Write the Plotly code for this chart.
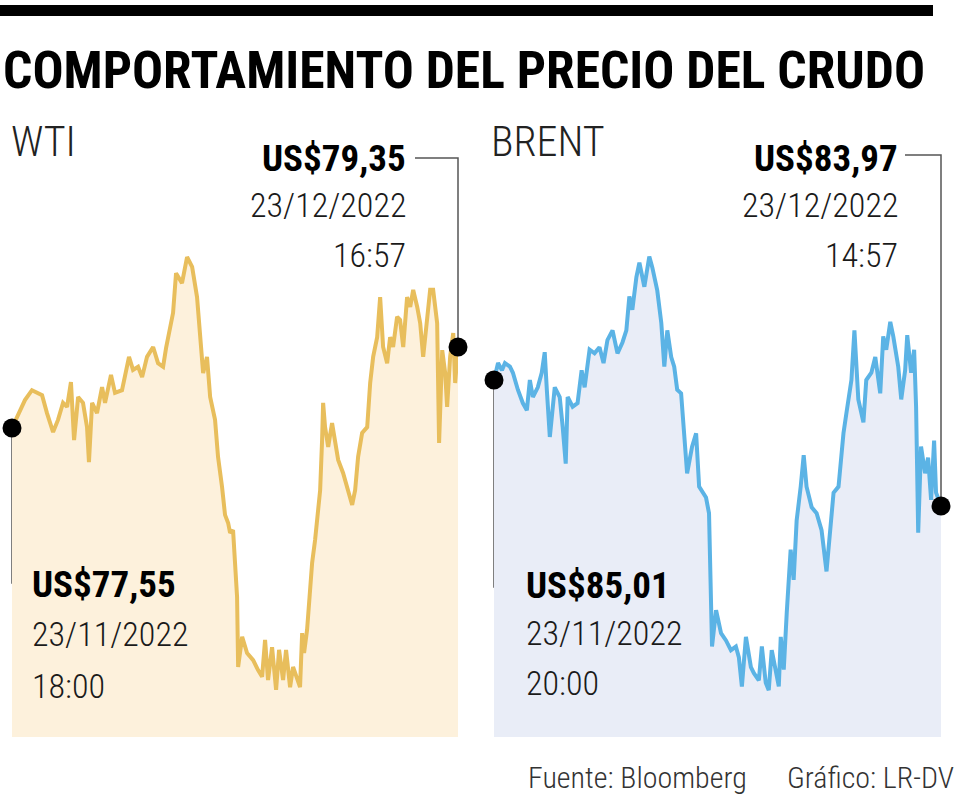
import plotly.graph_objects as go

# ---------------- data ----------------
# days elapsed since the first quote (23/11/2022), price in US$
wti_day = [0, 0.54, 0.87, 1.34, 1.68, 2.02, 2.35, 2.76, 3.09, 3.43,
           3.70, 3.96, 4.17, 4.44, 4.77, 5.04, 5.17, 5.38, 5.71, 6.05,
           6.25, 6.65, 6.92, 7.39, 7.86, 8.13, 8.47, 8.74, 9.07, 9.48,
           9.81, 10.15, 10.35, 10.62, 10.82, 11.02, 11.42, 11.76, 12.10, 12.43,
           12.63, 12.84, 13.10, 13.31, 13.64, 13.84, 14.11, 14.31, 14.52, 14.65,
           14.85, 15.12, 15.19, 15.46, 15.79, 16.20, 16.53, 16.80, 17.00, 17.20,
           17.47, 17.74, 17.94, 18.21, 18.41, 18.68, 18.88, 19.15, 19.35, 19.49,
           19.62, 19.82, 20.16, 20.36, 20.56, 20.70, 20.83, 20.90, 21.03, 21.24,
           21.50, 21.71, 21.91, 22.24, 22.58, 22.85, 23.05, 23.25, 23.52, 23.86,
           24.06, 24.26, 24.53, 24.73, 24.93, 25.20, 25.40, 25.60, 25.87, 26.07,
           26.28, 26.54, 26.75, 26.95, 27.22, 27.42, 27.62, 27.89, 28.09, 28.29,
           28.56, 28.69, 28.90, 29.10, 29.23, 29.43, 29.64, 29.77, 29.90, 29.96]
wti_price = [77.55, 77.91, 78.17, 78.39, 78.33, 78.28, 77.88, 77.46, 77.73, 78.11,
             78.02, 78.57, 77.28, 78.24, 78.11, 77.57, 76.79, 78.11, 77.88, 78.46,
             78.11, 78.73, 78.33, 78.39, 79.13, 78.84, 78.91, 78.68, 79.13, 79.35,
             78.99, 78.91, 79.33, 79.79, 80.11, 80.99, 80.77, 81.35, 81.13, 80.46,
             79.73, 78.77, 79.13, 78.24, 77.73, 76.91, 76.24, 75.62, 75.44, 75.22,
             75.28, 73.79, 72.24, 72.91, 72.55, 72.39, 72.17, 72.02, 72.84, 71.95,
             72.68, 71.73, 72.62, 71.95, 72.62, 71.79, 72.24, 71.95, 71.79, 72.99,
             72.55, 73.06, 74.55, 75.06, 75.66, 76.17, 77.28, 78.11, 77.57, 77.13,
             77.66, 77.28, 76.84, 76.55, 76.17, 75.84, 76.17, 76.91, 77.44, 77.57,
             78.55, 79.13, 79.57, 80.46, 79.35, 78.99, 79.57, 79.35, 80.02, 79.95,
             79.35, 80.46, 80.24, 80.62, 80.24, 79.88, 79.13, 79.95, 80.62, 80.62,
             79.88, 77.22, 79.28, 78.77, 78.02, 79.13, 79.66, 78.55, 79.06, 79.35]

brent_day = [0, 0.27, 0.53, 0.73, 1.06, 1.26, 1.59, 1.92, 2.19, 2.39,
             2.59, 2.92, 3.18, 3.38, 3.52, 3.72, 4.05, 4.38, 4.58, 4.78,
             4.91, 5.24, 5.57, 5.84, 6.04, 6.37, 6.70, 7.03, 7.30, 7.56,
             7.90, 8.23, 8.56, 8.82, 9.02, 9.22, 9.49, 9.69, 10.02, 10.35,
             10.55, 10.88, 11.15, 11.35, 11.55, 11.81, 12.01, 12.21, 12.47, 12.67,
             12.87, 13.20, 13.47, 13.67, 14.13, 14.33, 14.46, 14.53, 14.80, 15.13,
             15.46, 15.79, 16.12, 16.32, 16.52, 16.79, 17.12, 17.32, 17.65, 17.85,
             18.11, 18.31, 18.51, 18.78, 18.98, 19.11, 19.31, 19.51, 19.77, 19.97,
             20.17, 20.44, 20.64, 20.83, 21.17, 21.50, 21.83, 22.16, 22.43, 22.63,
             22.96, 23.29, 23.49, 23.82, 24.02, 24.28, 24.62, 24.81, 25.15, 25.41,
             25.74, 25.94, 26.14, 26.41, 26.61, 26.94, 27.14, 27.40, 27.54, 27.80,
             28.00, 28.13, 28.27, 28.46, 28.73, 28.93, 29.13, 29.33, 29.46, 29.79]
brent_price = [85.01, 85.15, 85.09, 85.15, 85.12, 85.07, 84.93, 84.82, 84.76, 85.01,
               84.87, 84.95, 85.07, 85.24, 84.93, 84.54, 84.95, 84.87, 84.62, 84.32,
               84.87, 84.79, 84.82, 85.09, 84.95, 85.26, 85.23, 85.28, 85.15, 85.34,
               85.42, 85.23, 85.32, 85.42, 85.70, 85.59, 85.86, 85.98, 85.78, 86.03,
               85.94, 85.75, 85.48, 85.12, 85.42, 85.20, 85.12, 84.93, 84.90, 84.51,
               84.24, 84.46, 84.57, 84.13, 84.04, 83.91, 83.36, 82.81, 83.11, 82.92,
               82.86, 82.78, 82.81, 82.72, 82.48, 82.89, 82.64, 82.59, 82.53, 82.81,
               82.51, 82.45, 82.78, 82.59, 82.48, 82.89, 82.62, 83.09, 83.61, 83.36,
               83.85, 84.13, 84.39, 84.13, 83.96, 83.91, 83.77, 83.43, 83.77, 84.08,
               84.13, 84.57, 84.74, 85.01, 85.42, 84.85, 84.66, 85.01, 85.07, 85.20,
               84.90, 85.37, 85.26, 85.49, 85.37, 85.12, 84.85, 85.09, 85.38, 85.07,
               85.26, 84.79, 83.75, 84.46, 84.24, 84.37, 84.02, 84.51, 84.08, 83.97]

title_text = "COMPORTAMIENTO DEL PRECIO DEL CRUDO"
panel_names = ["WTI", "BRENT"]
wti_first = ["US$77,55", "23/11/2022", "18:00"]
wti_last = ["US$79,35", "23/12/2022", "16:57"]
brent_first = ["US$85,01", "23/11/2022", "20:00"]
brent_last = ["US$83,97", "23/12/2022", "14:57"]
source_text = "Fuente: Bloomberg"
credit_text = "Gráfico: LR-DV"

# ---------------- layout helpers ----------------
W, H = 960, 800
def px(x):
    return x / W
def py(y):
    return 1 - y / H

NARROW = "Roboto Condensed, Liberation Sans Narrow, Arial Narrow, Roboto, sans-serif"
WTI_LINE, WTI_FILL = "#E8BE5C", "#FDF1DC"
BR_LINE, BR_FILL = "#5BB3E5", "#E9EDF7"

ydom = [py(737), py(240)]
wti_xdom = [px(12), px(458)]
br_xdom = [px(494), px(941)]
wti_xr = [0, 29.96]
br_xr = [0, 29.79]
wti_yr = [70.683, 81.728]
br_yr = [82.063, 86.166]

def to_paper(v, dom, rng):
    return dom[0] + (v - rng[0]) / (rng[1] - rng[0]) * (dom[1] - dom[0])

fig = go.Figure()

fig.add_trace(go.Scatter(x=wti_day, y=wti_price, mode="lines",
                         line=dict(color=WTI_LINE, width=4),
                         fill="tozeroy", fillcolor=WTI_FILL,
                         xaxis="x", yaxis="y", hoverinfo="skip"))
fig.add_trace(go.Scatter(x=[wti_day[0], wti_day[-1]], y=[wti_price[0], wti_price[-1]],
                         mode="markers", marker=dict(color="black", size=19),
                         cliponaxis=False, xaxis="x", yaxis="y", hoverinfo="skip"))
fig.add_trace(go.Scatter(x=brent_day, y=brent_price, mode="lines",
                         line=dict(color=BR_LINE, width=4),
                         fill="tozeroy", fillcolor=BR_FILL,
                         xaxis="x2", yaxis="y2", hoverinfo="skip"))
fig.add_trace(go.Scatter(x=[brent_day[0], brent_day[-1]], y=[brent_price[0], brent_price[-1]],
                         mode="markers", marker=dict(color="black", size=19),
                         cliponaxis=False, xaxis="x2", yaxis="y2", hoverinfo="skip"))

ax = dict(visible=False, showgrid=False, zeroline=False, fixedrange=True)
fig.update_layout(
    width=W, height=H, margin=dict(l=0, r=0, t=0, b=0),
    paper_bgcolor="white", plot_bgcolor="rgba(0,0,0,0)", showlegend=False,
    xaxis=dict(ax, domain=wti_xdom, range=wti_xr),
    yaxis=dict(ax, domain=ydom, range=wti_yr),
    xaxis2=dict(ax, domain=br_xdom, range=br_xr, anchor="y2"),
    yaxis2=dict(ax, domain=ydom, range=br_yr, anchor="x2"),
)

# top black rule
shapes = [dict(type="rect", xref="paper", yref="paper", x0=0, x1=px(933),
               y0=py(16), y1=py(5), fillcolor="black", line=dict(width=0), layer="above")]

# leader lines
LC = dict(color="#555555", width=1.5)
def leader(xd, yd, xdom, xr, yr, ycorner, xend):
    xp = to_paper(xd, xdom, xr)
    yp = to_paper(yd, ydom, yr)
    return dict(type="path", xref="paper", yref="paper",
                path=f"M {xp},{yp} L {xp},{py(ycorner)} L {px(xend)},{py(ycorner)}",
                line=LC, layer="below")

shapes.append(leader(wti_day[-1], wti_price[-1], wti_xdom, wti_xr, wti_yr, 158, 415))
shapes.append(leader(wti_day[0], wti_price[0], wti_xdom, wti_xr, wti_yr, 583, 26))
shapes.append(leader(brent_day[-1], brent_price[-1], br_xdom, br_xr, br_yr, 155, 905))
shapes.append(leader(brent_day[0], brent_price[0], br_xdom, br_xr, br_yr, 587, 520))
fig.update_layout(shapes=shapes)

ann = []
def text(t, x, y, size, anchor="left", weight=300, color="#1a1a1a"):
    ann.append(dict(text=t, x=px(x), y=py(y), xref="paper", yref="paper",
                    xanchor=anchor, yanchor="middle", showarrow=False,
                    font=dict(family=NARROW, size=size, color=color, weight=weight)))

text(title_text, 1, 70, 51.6, weight=700, color="black")
text(panel_names[0], 9, 141, 42, color="#222222")
text(panel_names[1], 489, 141, 42, color="#222222")

def block(lines, x, y0, anchor, d1=47, d2=97):
    text(lines[0], x, y0, 37, anchor=anchor, weight=700, color="black")
    text(lines[1], x, y0 + d1, 34, anchor=anchor)
    text(lines[2], x, y0 + d2, 34, anchor=anchor)

block(wti_last, 408, 158, "right")
block(wti_first, 30, 584, "left", 50, 102)
block(brent_last, 900, 158, "right")
block(brent_first, 524, 585, "left", 48, 98)

text(source_text, 526, 777, 30, color="#333333")
text(credit_text, 956, 777, 30, anchor="right", color="#333333")

fig.update_layout(annotations=ann)
fig.write_html("out.html", config={"displayModeBar": False},
               post_script="document.body.style.margin='0';")
